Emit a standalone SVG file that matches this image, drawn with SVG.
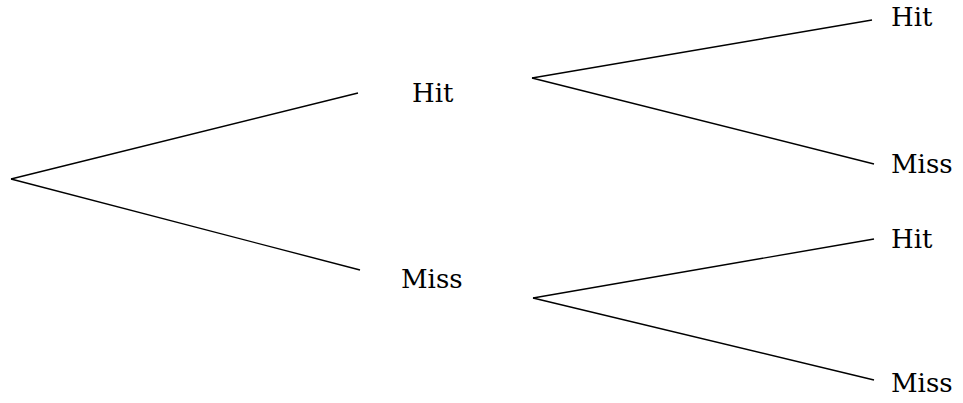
<svg xmlns="http://www.w3.org/2000/svg" width="963" height="403" viewBox="0 0 963 403">
<style>
.e{stroke:#000;stroke-width:1.4;fill:none}
.t{font-family:"DejaVu Serif",serif;font-size:26px;fill:#000}
</style>
<rect width="963" height="403" fill="#fff"/>
<g id="connectors">
<line class="e" x1="11" y1="179" x2="358" y2="93"/>
<line class="e" x1="11" y1="179" x2="360" y2="270"/>
<line class="e" x1="532" y1="78" x2="872" y2="20"/>
<line class="e" x1="532" y1="78" x2="874" y2="164"/>
<line class="e" x1="533" y1="298" x2="874" y2="239"/>
<line class="e" x1="533" y1="298" x2="874" y2="380"/>
</g>
<g id="n-hit1"><text class="t" x="412" y="102">Hit</text></g>
<g id="n-miss1"><text class="t" x="401" y="288">Miss</text></g>
<g id="n-hit-hit"><text class="t" x="891" y="26">Hit</text></g>
<g id="n-hit-miss"><text class="t" x="891" y="173">Miss</text></g>
<g id="n-miss-hit"><text class="t" x="891" y="248">Hit</text></g>
<g id="n-miss-miss"><text class="t" x="891" y="392">Miss</text></g>
</svg>
